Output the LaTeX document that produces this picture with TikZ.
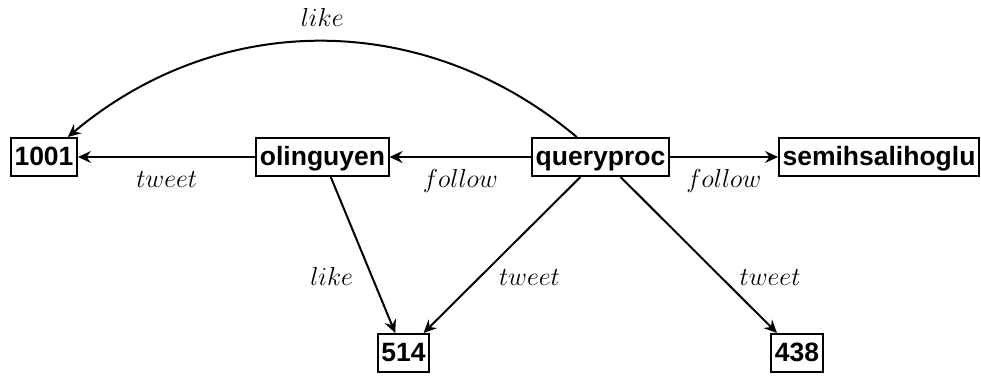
\RequirePackage{fix-cm}
\documentclass[tikz,border=0pt]{standalone}
\usepackage{fontspec}
\newfontfamily\nodefont{Liberation Sans}
\usetikzlibrary{arrows.meta}
\begin{document}
\begin{tikzpicture}[x=1pt,y=-1pt,
  vtx/.style={draw, line width=2pt, font=\nodefont\bfseries\fontsize{26.5}{30}\selectfont,
    text height=22pt, text depth=6pt, inner xsep=3.5pt, inner ysep=5pt},
  edge/.style={line width=2pt, -{Stealth[length=13pt,width=12pt,inset=4.5pt]}},
  lbl/.style={font=\fontsize{26}{30}\selectfont, text height=18pt, inner xsep=10pt, inner ysep=11pt},
  ]
\useasboundingbox (0,0) rectangle (981,382);
\node[vtx] (n1001) at (44,157) {1001};
\node[vtx] (olin) at (322.5,157) {olinguyen};
\node[vtx] (qp) at (600.5,157) {queryproc};
\node[vtx] (semih) at (879,157) {semihsalihoglu};
\node[vtx] (n514) at (403.5,353) {514};
\node[vtx] (n438) at (797,353) {438};

\draw[edge] (olin) -- node[lbl,below]{$tweet$} (n1001);
\draw[edge] (qp) -- node[lbl,below]{$follow$} (olin);
\draw[edge] (qp) -- node[lbl,below]{$follow$} (semih);
\draw[edge] (olin) -- node[lbl,pos=0.64,left,inner xsep=18pt]{$like$} (n514);
\draw[edge] (qp) -- node[lbl,pos=0.64,right,inner xsep=18pt]{$tweet$} (n514);
\draw[edge] (qp) -- node[lbl,pos=0.64,right,inner xsep=18pt]{$tweet$} (n438);
\draw[edge] (qp) to[bend right=40] node[lbl,midway,above,inner ysep=14pt]{$like$} (n1001);
\end{tikzpicture}
\end{document}
